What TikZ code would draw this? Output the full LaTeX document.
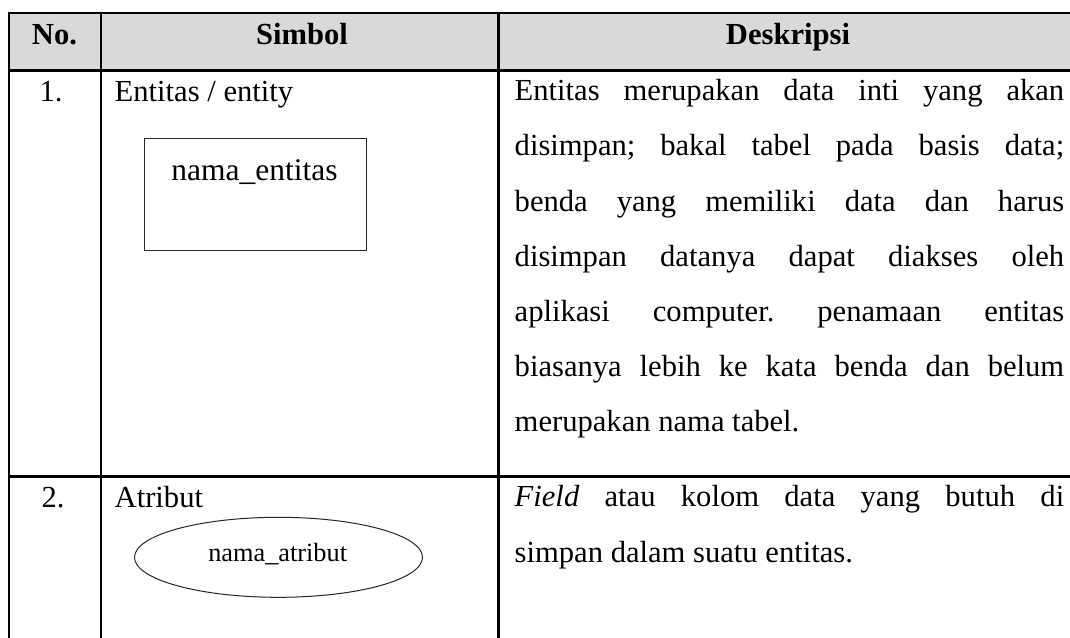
\documentclass[tikz,border=0pt]{standalone}
\usepackage{fontspec}
\setmainfont{Liberation Serif}
\definecolor{hdrgray}{HTML}{D9D9D9}
\frenchspacing
\begin{document}
\begin{tikzpicture}[x=1pt,y=-1pt,
  rule/.style={line width=2.5pt, line join=miter},
  txt/.style={inner sep=0pt, anchor=base west, font=\fontsize{30.6}{36}\selectfont},
  ctr/.style={inner sep=0pt, anchor=base, font=\fontsize{30.6}{36}\selectfont},
  hdr/.style={inner sep=0pt, anchor=base, font=\fontsize{30.6}{36}\selectfont\bfseries},
  shapeline/.style={line width=1pt, draw=black!85}]
\useasboundingbox (0,0) rectangle (1070,637);
% header fill
\fill[hdrgray] (9,13.2) rectangle (1070,70.5);
% table rules
\draw[rule] (1072,13.2) -- (9,13.2) -- (9,640);
\draw[rule] (9,70.5) -- (1072,70.5);
\draw[rule] (9,476.5) -- (1072,476.5);
\draw[rule] (101,13.2) -- (101,640);
\draw[rule] (498.5,13.2) -- (498.5,640);
% header
\node[hdr] (hno) at (54.5,44.8) {No.};
\node[hdr] (hsim) at (302,44.8) {Simbol};
\node[hdr] (hdes) at (788,44.8) {Deskripsi};
% row 1
\node[ctr] (n1) at (51,101.5) {1.};
\node[txt] (s1) at (114.5,101.5) {Entitas / entity};
\draw[shapeline] (144,138.3) rectangle (366,250);
\node[inner sep=0pt, anchor=base, font=\fontsize{31.5}{36}\selectfont] (ent) at (254.5,180.5) {nama\_entitas};
\node[txt] (d1a) at (514.5,100.8) {\makebox[549.5pt][s]{Entitas merupakan data inti yang akan}};
\node[txt] (d1b) at (514.5,155.9) {\makebox[549.5pt][s]{disimpan; bakal tabel pada basis data;}};
\node[txt] (d1c) at (514.5,211) {\makebox[549.5pt][s]{benda yang memiliki data dan harus}};
\node[txt] (d1d) at (514.5,266.1) {\makebox[549.5pt][s]{disimpan datanya dapat diakses oleh}};
\node[txt] (d1e) at (514.5,321.2) {\makebox[549.5pt][s]{aplikasi computer. penamaan entitas}};
\node[txt] (d1f) at (514.5,376.3) {\makebox[549.5pt][s]{biasanya lebih ke kata benda dan belum}};
\node[txt] (d1g) at (514.5,431.4) {merupakan nama tabel.};
% row 2
\node[ctr] (n2) at (53,507) {2.};
\node[txt] (s2) at (114.5,507) {Atribut};
\draw[shapeline] (278.5,557.3) ellipse [x radius=144, y radius=40];
\node[inner sep=0pt, anchor=base, font=\fontsize{26.3}{30}\selectfont] (att) at (277.7,561.5) {nama\_atribut};
\node[txt] (d2a) at (514.5,506.5) {\makebox[549.5pt][s]{\textit{Field} atau kolom data yang butuh di}};
\node[txt] (d2b) at (514.5,562.5) {simpan dalam suatu entitas.};
\end{tikzpicture}
\end{document}
